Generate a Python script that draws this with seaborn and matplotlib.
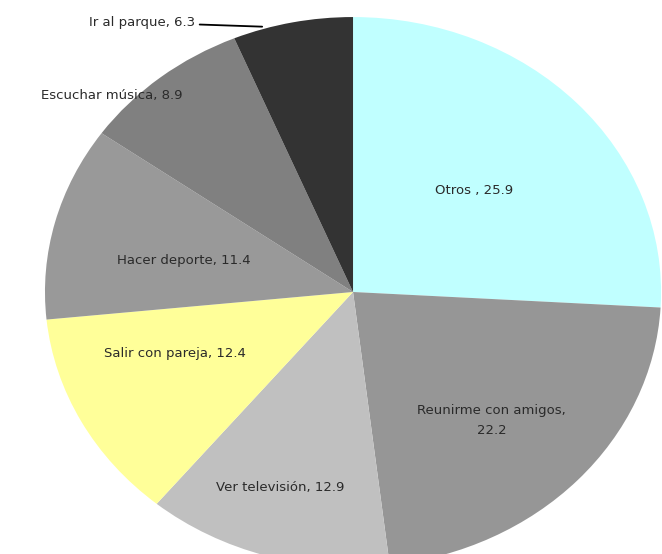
import numpy as np
import matplotlib
matplotlib.use("Agg")
import matplotlib.pyplot as plt
import seaborn as sns

# Data (percent)
categories = ["Otros", "Reunirme con amigos", "Ver televisión", "Salir con pareja",
              "Hacer deporte", "Escuchar música", "Ir al parque"]
values = [25.9, 22.2, 12.9, 12.4, 11.4, 8.9, 6.3]
label_texts = ["Otros , 25.9", "Reunirme con amigos,\n22.2", "Ver televisión, 12.9",
               "Salir con pareja, 12.4", "Hacer deporte, 11.4", "Escuchar música, 8.9",
               "Ir al parque, 6.3"]
colors = ["#C0FFFF", "#969696", "#C0C0C0", "#FFFF99", "#999999", "#808080", "#333333"]

sns.set_theme(style="white")
plt.rcParams["font.family"] = ["DejaVu Sans"]

fig = plt.figure(figsize=(6.62, 5.54), dpi=100)
ax = fig.add_axes([0, 0, 1, 1])

wedges, _ = ax.pie(values, colors=colors, startangle=90, counterclock=False,
                   radius=1.0, wedgeprops=dict(linewidth=0))

# stretched (elliptical) pie, partly cut by the figure edges like the original
ax.set_aspect("auto")
ax.set_xlim(-1.146, 1.003)
ax.set_ylim(-0.953, 1.062)
ax.axis("off")

# label placement: radius as fraction of the pie and angle nudge (deg)
label_r = [0.54, 0.65, 0.75, 0.62, 0.56, 1.06]
label_dtheta = [0, -3, -2, -7, 3, 9]
for w, txt, r, dt in zip(wedges[:6], label_texts[:6], label_r, label_dtheta):
    mid = np.deg2rad((w.theta1 + w.theta2) / 2 + dt)
    ax.text(r * np.cos(mid), r * np.sin(mid), txt, ha="center", va="center",
            fontsize=9.5, color="#2a2a2a", linespacing=1.7)

# last slice gets an outside label with a leader line
ax.annotate(label_texts[6], xy=(-0.295, 0.965), xytext=(-0.513, 0.98),
            ha="right", va="center", fontsize=9.5, color="#2a2a2a",
            arrowprops=dict(arrowstyle="-", color="black", lw=1.3,
                            shrinkA=1, shrinkB=0))

fig.savefig("out.png", dpi=100)
